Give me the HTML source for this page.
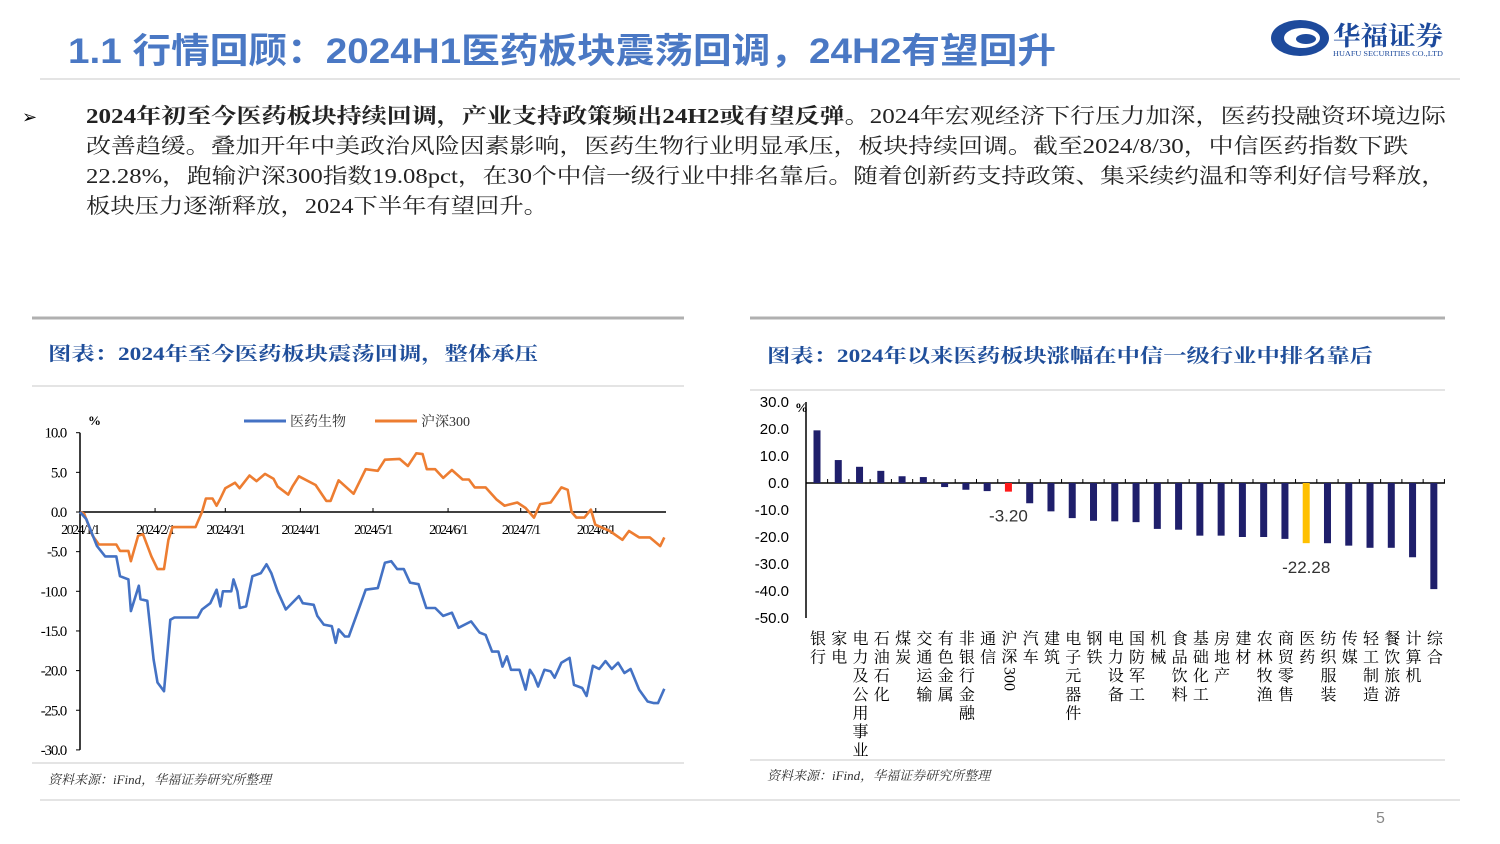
<!DOCTYPE html>
<html><head><meta charset="utf-8"><style>
html,body{margin:0;padding:0;background:#fff;}
svg{display:block;}
.serif{font-family:"Liberation Serif","Noto Serif CJK SC",serif;}
.sans{font-family:"Liberation Sans","Noto Sans CJK SC",sans-serif;}
</style></head><body>
<svg id="s" width="1500" height="844" viewBox="0 0 1500 844" xmlns="http://www.w3.org/2000/svg">
<rect width="1500" height="844" fill="#fff"/>
<text class="sans" x="68" y="63" font-size="35" font-weight="bold" fill="#4a78c4" textLength="988" lengthAdjust="spacingAndGlyphs">1.1 行情回顾：2024H1医药板块震荡回调，24H2有望回升</text>
<g>
<ellipse cx="1300" cy="38" rx="29" ry="18" fill="#1d4a9c"/>
<ellipse cx="1302" cy="38" rx="18" ry="10" fill="#fff"/>
<ellipse cx="1306" cy="39" rx="10" ry="5" fill="#1d4a9c"/>
<text class="serif" x="1333" y="45" font-size="26" font-weight="bold" fill="#1d4a9c" textLength="110" lengthAdjust="spacingAndGlyphs">华福证券</text>
<text class="serif" x="1333" y="56" font-size="7" fill="#1d4a9c" textLength="110" lengthAdjust="spacingAndGlyphs">HUAFU SECURITIES CO.,LTD</text>
</g>
<line x1="40" y1="79" x2="1460" y2="79" stroke="#e4e4e4" stroke-width="2"/>
<text class="sans" x="22" y="123" font-size="18">➢</text>
<g class="serif" font-size="21" fill="#222">
<text x="86" y="123" textLength="1360" lengthAdjust="spacingAndGlyphs"><tspan font-weight="bold">2024年初至今医药板块持续回调，产业支持政策频出24H2或有望反弹。</tspan>2024年宏观经济下行压力加深，医药投融资环境边际</text>
<text x="86" y="153" textLength="1322" lengthAdjust="spacingAndGlyphs">改善趋缓。叠加开年中美政治风险因素影响，医药生物行业明显承压，板块持续回调。截至2024/8/30，中信医药指数下跌</text>
<text x="86" y="183" textLength="1360" lengthAdjust="spacingAndGlyphs">22.28%，跑输沪深300指数19.08pct，在30个中信一级行业中排名靠后。随着创新药支持政策、集采续约温和等利好信号释放，</text>
<text x="86" y="213" textLength="462" lengthAdjust="spacingAndGlyphs">板块压力逐渐释放，2024下半年有望回升。</text>
</g>
<line x1="32" y1="318" x2="684" y2="318" stroke="#b0b0b0" stroke-width="3"/>
<text class="serif" x="48" y="360" font-size="19" font-weight="bold" fill="#1f4e9a" textLength="490" lengthAdjust="spacingAndGlyphs">图表：2024年至今医药板块震荡回调，整体承压</text>
<line x1="32" y1="386" x2="684" y2="386" stroke="#c8c8c8" stroke-width="1"/>
<line x1="32" y1="763" x2="684" y2="763" stroke="#c8c8c8" stroke-width="1"/>
<text class="serif" x="48" y="784" font-size="13" font-style="italic" fill="#333">资料来源：iFind，华福证券研究所整理</text>
<line x1="750" y1="318" x2="1445" y2="318" stroke="#b0b0b0" stroke-width="3"/>
<text class="serif" x="767" y="362" font-size="19" font-weight="bold" fill="#1f4e9a" textLength="606" lengthAdjust="spacingAndGlyphs">图表：2024年以来医药板块涨幅在中信一级行业中排名靠后</text>
<line x1="750" y1="390" x2="1445" y2="390" stroke="#c8c8c8" stroke-width="1"/>
<line x1="750" y1="760" x2="1445" y2="760" stroke="#c8c8c8" stroke-width="1"/>
<text class="serif" x="767" y="780" font-size="13" font-style="italic" fill="#333">资料来源：iFind，华福证券研究所整理</text>
<line x1="40" y1="800" x2="1460" y2="800" stroke="#e4e4e4" stroke-width="2"/>
<text class="sans" x="1376" y="823" font-size="16" fill="#888">5</text>
<g id="left"></g>
<g id="right"></g>
</svg>
<script>
const lineDates = ["2024/1/1","2024/2/1","2024/3/1","2024/4/1","2024/5/1","2024/6/1","2024/7/1","2024/8/1"];
const lineDateDays = [0,31,60,91,121,152,182,213];
const yTicksL = [10,5,0,-5,-10,-15,-20,-25,-30];
const yTickLabelsL = ["10.0","5.0","0.0","-5.0","-10.0","-15.0","-20.0","-25.0","-30.0"];
const medDays = [0,2.6,7,10.4,15,16.5,20,21,24.3,25,27.8,30.4,32,34.7,37.3,39,48.6,50.4,53.8,56.4,58,59,62.5,63.4,65,66,68.6,71.2,74.7,77,79,81.6,85,90.4,92,96.5,98,100.7,104,105.6,106.8,109.4,111,115.5,118,123,125.9,128.5,131,133.7,136.3,139.8,143,146.7,150,153.6,156.3,161.5,165,167.5,170.2,172.8,174.5,176.3,178,181.5,184,185.8,187.5,189.2,191.8,194.4,196,198.8,202.2,204,207.4,209.2,211.8,214.4,217,219.6,222.2,224.8,227.4,230.9,234.4,237,238.7,241.3];
const medVals = [0,-0.9,-4.3,-5.6,-5.6,-8.1,-8.5,-12.5,-9.3,-11,-11.2,-18.6,-21.5,-22.6,-13.6,-13.3,-13.3,-12.3,-11.5,-9.8,-11.9,-10,-10,-8.5,-10,-12.1,-11.9,-8.1,-7.7,-6.6,-7.7,-10,-12.3,-10.6,-11.5,-11.7,-13.1,-14.2,-14.4,-16.5,-14.8,-15.7,-15.7,-11.9,-9.8,-9.6,-6.4,-6.2,-7.2,-7.2,-8.9,-9.1,-12.1,-12.1,-13.1,-12.7,-14.6,-13.8,-15.2,-15.5,-17.6,-17.6,-19.5,-18.2,-19.9,-19.9,-22.4,-19.9,-20.7,-22,-19.9,-20.1,-20.9,-19,-18.4,-21.8,-22.2,-23.2,-19.4,-19.8,-18.8,-19.8,-19,-20.3,-19.8,-22.4,-23.9,-24.1,-24.1,-22.3];
const hsDays = [0,1.7,5.2,7.8,15,16.5,20,21,24,26,29.5,32,34.7,36.5,38.2,47.7,50.4,52,54.7,56.4,58,60,64,65.9,70,72.9,76.4,79.9,81.6,86,87.7,90.4,97.3,101.7,103.5,106.8,113,118,123,125.9,132,135.4,138.9,141.5,143.2,146.7,150,153.6,158,160.6,163,167.5,171.9,175.3,180.6,184,187.5,190,194.4,198.8,201.4,203,205,208.3,211,212.8,218.8,224,226.7,230.9,235.3,239.6,241.3];
const hsVals = [0,-0.2,-3,-4.1,-4.1,-4.9,-4.9,-6.2,-3,-2.8,-5.6,-7.2,-7.2,-3.5,-1.9,-1.9,0,1.7,1.7,0.8,1.7,3,3.7,3,4.6,3.9,4.8,4.2,3.2,2.2,3.2,4.5,3.4,1.4,1.4,4,2.3,5.4,5.2,6.6,6.7,5.8,7.4,7.3,5.4,5.4,4.3,5.3,4.1,4.1,3.1,3.1,1.6,0.8,1.2,0.5,-0.7,1,1.2,3.1,2.8,0,-0.7,-0.7,0.3,-1.6,-2.4,-3.5,-2.4,-3.2,-3.2,-4.3,-3.2];

const barCats = ["银行","家电","电力及公用事业","石油石化","煤炭","交通运输","有色金属","非银行金融","通信","沪深300","汽车","建筑","电子元器件","钢铁","电力设备","国防军工","机械","食品饮料","基础化工","房地产","建材","农林牧渔","商贸零售","医药","纺织服装","传媒","轻工制造","餐饮旅游","计算机","综合"];
const barVals = [19.5,8.5,6,4.5,2.5,2.2,-1.5,-2.5,-3,-3.2,-7.5,-10.5,-13,-14,-14.2,-14.5,-17,-17.3,-19.5,-19.5,-20,-20,-20.7,-22.28,-22.3,-23.2,-24,-24,-27.5,-39.3];
const barTicks = [30,20,10,0,-10,-20,-30,-40,-50];
const barTickLabels = ["30.0","20.0","10.0","0.0","-10.0","-20.0","-30.0","-40.0","-50.0"];

const NS="http://www.w3.org/2000/svg";
function mk(parent,tag,attrs,text){const e=document.createElementNS(NS,tag);for(const k in attrs)e.setAttribute(k,attrs[k]);if(text!==undefined)e.textContent=text;parent.appendChild(e);return e;}
const SERIF='"Liberation Serif","Noto Serif CJK SC",serif';

const L=document.getElementById('left');
const lx=d=>80+d*(586/242);
const ly=v=>512-v*7.93;
yTicksL.forEach((t,i)=>{
  const e=mk(L,'text',{x:66,y:ly(t)+5,'font-size':15,'text-anchor':'end','font-family':SERIF,'letter-spacing':'-1.2',fill:'#000'},yTickLabelsL[i]);
  
  
  mk(L,'line',{x1:76,x2:80,y1:ly(t),y2:ly(t),stroke:'#000'});
});
const ya=mk(L,'line',{x1:80,x2:80,y1:ly(10),y2:ly(-30),stroke:'#000','stroke-width':1.5});


const xa=mk(L,'line',{x1:80,x2:lx(242),y1:ly(0),y2:ly(0),stroke:'#000','stroke-width':1.5});


lineDates.forEach((d,i)=>{
  const x=lx(lineDateDays[i]);
  mk(L,'line',{x1:x,x2:x,y1:ly(0)-4,y2:ly(0),stroke:'#000'});
  const e=mk(L,'text',{x:x,y:534,'font-size':14,'text-anchor':'middle','font-family':SERIF,'letter-spacing':'-1.5',fill:'#000'},d);
  
  
});
const pu=mk(L,'text',{x:88,y:425,'font-size':13,'font-family':SERIF,'font-weight':'bold'},'%');


function poly(days,vals,color,name){
  const p=mk(L,'polyline',{points:days.map((d,i)=>lx(d).toFixed(1)+','+ly(vals[i]).toFixed(1)).join(' '),fill:'none',stroke:color,'stroke-width':2.6,'stroke-linejoin':'round'});
  
  
}
poly(hsDays,hsVals,'#ed7d31','hs300-line');
poly(medDays,medVals,'#4472c4','pharma-line');
const lg1=mk(L,'g',{});


mk(lg1,'line',{x1:244,x2:286,y1:421,y2:421,stroke:'#4472c4','stroke-width':3});
mk(lg1,'text',{x:290,y:426,'font-size':14,'font-family':SERIF,fill:'#333'},'医药生物');
const lg2=mk(L,'g',{});


mk(lg2,'line',{x1:375,x2:417,y1:421,y2:421,stroke:'#ed7d31','stroke-width':3});
mk(lg2,'text',{x:421,y:426,'font-size':14,'font-family':SERIF,fill:'#333'},'沪深300');

const R=document.getElementById('right');
const by=v=>483-v*2.7;
const bx=i=>817+i*21.27;
barTicks.forEach((t,i)=>{
  const e=mk(R,'text',{x:789,y:by(t)+5,'font-size':15,'text-anchor':'end','font-family':'"Liberation Sans Narrow","Liberation Sans",sans-serif',fill:'#000'},barTickLabels[i]);
  
  
});
const bya=mk(R,'line',{x1:806,x2:806,y1:by(30),y2:by(-50),stroke:'#000','stroke-width':1.5});


const bxa=mk(R,'line',{x1:806,x2:1445,y1:by(0),y2:by(0),stroke:'#000','stroke-width':1.5});


const bu=mk(R,'text',{x:795,y:412,'font-size':13,'font-family':SERIF,'font-weight':'bold'},'%');


barVals.forEach((v,i)=>{
  const x=bx(i);
  mk(R,'line',{x1:x+10.6,x2:x+10.6,y1:by(0)-4,y2:by(0),stroke:'#000'});
  let c='#1f1f6b';
  if(barCats[i]==='沪深300')c='#ff1a1a';
  if(barCats[i]==='医药')c='#ffc000';
  const r=mk(R,'rect',{x:x-3.5,y:Math.min(by(0),by(v)),width:7,height:Math.abs(by(v)-by(0)),fill:c});
  
  
  const cat=barCats[i];
  const g=mk(R,'g',{});
  
  
  let yy=644;
  if(cat==='沪深300'){
    mk(g,'text',{x:x+1,y:644,'font-size':16,'text-anchor':'middle','font-family':SERIF},'沪');
    mk(g,'text',{x:x+1,y:662,'font-size':16,'text-anchor':'middle','font-family':SERIF},'深');
    mk(g,'text',{x:x+1,y:667,'font-size':16,'font-family':SERIF,transform:'rotate(90 '+(x+1)+' 667) translate(0 5)'},'300');
  } else {
    for(const ch of cat){mk(g,'text',{x:x+1,y:yy,'font-size':16,'text-anchor':'middle','font-family':SERIF},ch);yy+=18.6;}
  }
  if(cat==='沪深300'||cat==='医药'){
    const l=mk(R,'text',{x:x,y:by(v)+30,'font-size':17,'text-anchor':'middle','font-family':'"Liberation Sans",sans-serif',fill:'#333'},v.toFixed(2));
    
    
  }
});
</script>
</body></html>
